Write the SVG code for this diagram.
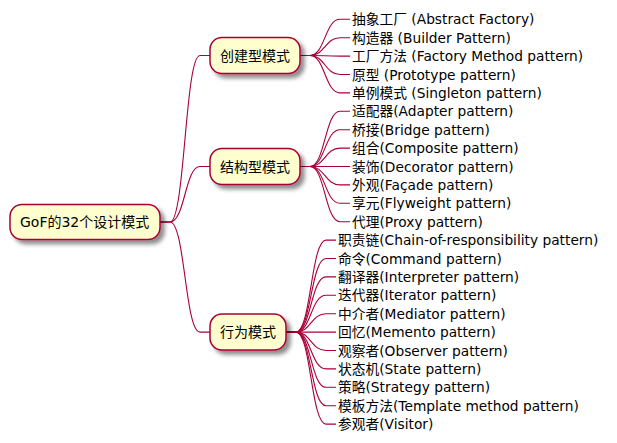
<svg xmlns="http://www.w3.org/2000/svg" width="617" height="443" viewBox="0 0 617 443">
<defs>
<filter id="sh" x="-10%" y="-20%" width="130%" height="160%">
<feGaussianBlur in="SourceAlpha" stdDeviation="2"/>
<feOffset dx="4" dy="4" result="b"/>
<feComponentTransfer in="b" result="c"><feFuncA type="linear" slope="0.45"/></feComponentTransfer>
<feMerge><feMergeNode in="c"/><feMergeNode in="SourceGraphic"/></feMerge>
</filter>
<style>
.box{fill:#FEFECE;stroke:#A80036;stroke-width:1.5;filter:url(#sh)}
.bt{font-family:"DejaVu Sans","Noto Sans CJK SC",sans-serif;font-size:14px;fill:#000}
.lt{font-family:"DejaVu Sans","Noto Sans CJK SC",sans-serif;font-size:13.75px;fill:#000}
.c path{fill:none;stroke:#A80036;stroke-width:1.1}
</style>
</defs>
<rect width="617" height="443" fill="#fff"/>
<g class="c" id="connectors">
<path d="M160,222 L170,222 C185,222 185,55.5 200,55.5 L210,55.5"/>
<path d="M160,222 L170,222 C185,222 185,166.5 200,166.5 L210,166.5"/>
<path d="M160,222 L170,222 C185,222 185,332.1 200,332.1 L210,332.1"/>
<path d="M300,55.5 L310,55.5 C325,55.5 325,19.3 340,19.3 L350,19.3"/>
<path d="M300,55.5 L310,55.5 C325,55.5 325,37.7 340,37.7 L350,37.7"/>
<path d="M300,55.5 L310,55.5 C325,55.5 325,56.1 340,56.1 L350,56.1"/>
<path d="M300,55.5 L310,55.5 C325,55.5 325,74.5 340,74.5 L350,74.5"/>
<path d="M300,55.5 L310,55.5 C325,55.5 325,92.9 340,92.9 L350,92.9"/>
<path d="M300,166.5 L310,166.5 C325,166.5 325,111.3 340,111.3 L350,111.3"/>
<path d="M300,166.5 L310,166.5 C325,166.5 325,129.7 340,129.7 L350,129.7"/>
<path d="M300,166.5 L310,166.5 C325,166.5 325,148.1 340,148.1 L350,148.1"/>
<path d="M300,166.5 L310,166.5 C325,166.5 325,166.5 340,166.5 L350,166.5"/>
<path d="M300,166.5 L310,166.5 C325,166.5 325,184.9 340,184.9 L350,184.9"/>
<path d="M300,166.5 L310,166.5 C325,166.5 325,203.3 340,203.3 L350,203.3"/>
<path d="M300,166.5 L310,166.5 C325,166.5 325,221.7 340,221.7 L350,221.7"/>
<path d="M286,332.1 L296,332.1 C311,332.1 311,240.1 326,240.1 L336,240.1"/>
<path d="M286,332.1 L296,332.1 C311,332.1 311,258.5 326,258.5 L336,258.5"/>
<path d="M286,332.1 L296,332.1 C311,332.1 311,276.9 326,276.9 L336,276.9"/>
<path d="M286,332.1 L296,332.1 C311,332.1 311,295.3 326,295.3 L336,295.3"/>
<path d="M286,332.1 L296,332.1 C311,332.1 311,313.7 326,313.7 L336,313.7"/>
<path d="M286,332.1 L296,332.1 C311,332.1 311,332.1 326,332.1 L336,332.1"/>
<path d="M286,332.1 L296,332.1 C311,332.1 311,350.5 326,350.5 L336,350.5"/>
<path d="M286,332.1 L296,332.1 C311,332.1 311,368.9 326,368.9 L336,368.9"/>
<path d="M286,332.1 L296,332.1 C311,332.1 311,387.3 326,387.3 L336,387.3"/>
<path d="M286,332.1 L296,332.1 C311,332.1 311,405.7 326,405.7 L336,405.7"/>
<path d="M286,332.1 L296,332.1 C311,332.1 311,424.1 326,424.1 L336,424.1"/>
</g>
<g id="root"><rect class="box" x="10" y="204.5" width="150" height="35" rx="12"/><text class="bt" x="20" y="227">GoF的32个设计模式</text></g>
<g id="creational"><rect class="box" x="210" y="37.5" width="90" height="36" rx="12"/><text class="bt" x="220" y="60.5">创建型模式</text></g>
<g id="structural"><rect class="box" x="210" y="148.5" width="90" height="36" rx="12"/><text class="bt" x="220" y="171.5">结构型模式</text></g>
<g id="behavioral"><rect class="box" x="210" y="314.1" width="76" height="36" rx="12"/><text class="bt" x="220" y="337.1">行为模式</text></g>
<g id="leaf1"><text class="lt" x="352" y="24.3">抽象工厂 (Abstract Factory)</text></g>
<g id="leaf2"><text class="lt" x="352" y="42.7">构造器 (Builder Pattern)</text></g>
<g id="leaf3"><text class="lt" x="352" y="61.1">工厂方法 (Factory Method pattern)</text></g>
<g id="leaf4"><text class="lt" x="352" y="79.5">原型 (Prototype pattern)</text></g>
<g id="leaf5"><text class="lt" x="352" y="97.9">单例模式 (Singleton pattern)</text></g>
<g id="leaf6"><text class="lt" x="352" y="116.3">适配器(Adapter pattern)</text></g>
<g id="leaf7"><text class="lt" x="352" y="134.7">桥接(Bridge pattern)</text></g>
<g id="leaf8"><text class="lt" x="352" y="153.1">组合(Composite pattern)</text></g>
<g id="leaf9"><text class="lt" x="352" y="171.5">装饰(Decorator pattern)</text></g>
<g id="leaf10"><text class="lt" x="352" y="189.9">外观(Façade pattern)</text></g>
<g id="leaf11"><text class="lt" x="352" y="208.3">享元(Flyweight pattern)</text></g>
<g id="leaf12"><text class="lt" x="352" y="226.7">代理(Proxy pattern)</text></g>
<g id="leaf13"><text class="lt" x="338" y="245.1">职责链(Chain-of-responsibility pattern)</text></g>
<g id="leaf14"><text class="lt" x="338" y="263.5">命令(Command pattern)</text></g>
<g id="leaf15"><text class="lt" x="338" y="281.9">翻译器(Interpreter pattern)</text></g>
<g id="leaf16"><text class="lt" x="338" y="300.3">迭代器(Iterator pattern)</text></g>
<g id="leaf17"><text class="lt" x="338" y="318.7">中介者(Mediator pattern)</text></g>
<g id="leaf18"><text class="lt" x="338" y="337.1">回忆(Memento pattern)</text></g>
<g id="leaf19"><text class="lt" x="338" y="355.5">观察者(Observer pattern)</text></g>
<g id="leaf20"><text class="lt" x="338" y="373.9">状态机(State pattern)</text></g>
<g id="leaf21"><text class="lt" x="338" y="392.3">策略(Strategy pattern)</text></g>
<g id="leaf22"><text class="lt" x="338" y="410.7">模板方法(Template method pattern)</text></g>
<g id="leaf23"><text class="lt" x="338" y="429.1">参观者(Visitor)</text></g>
</svg>
